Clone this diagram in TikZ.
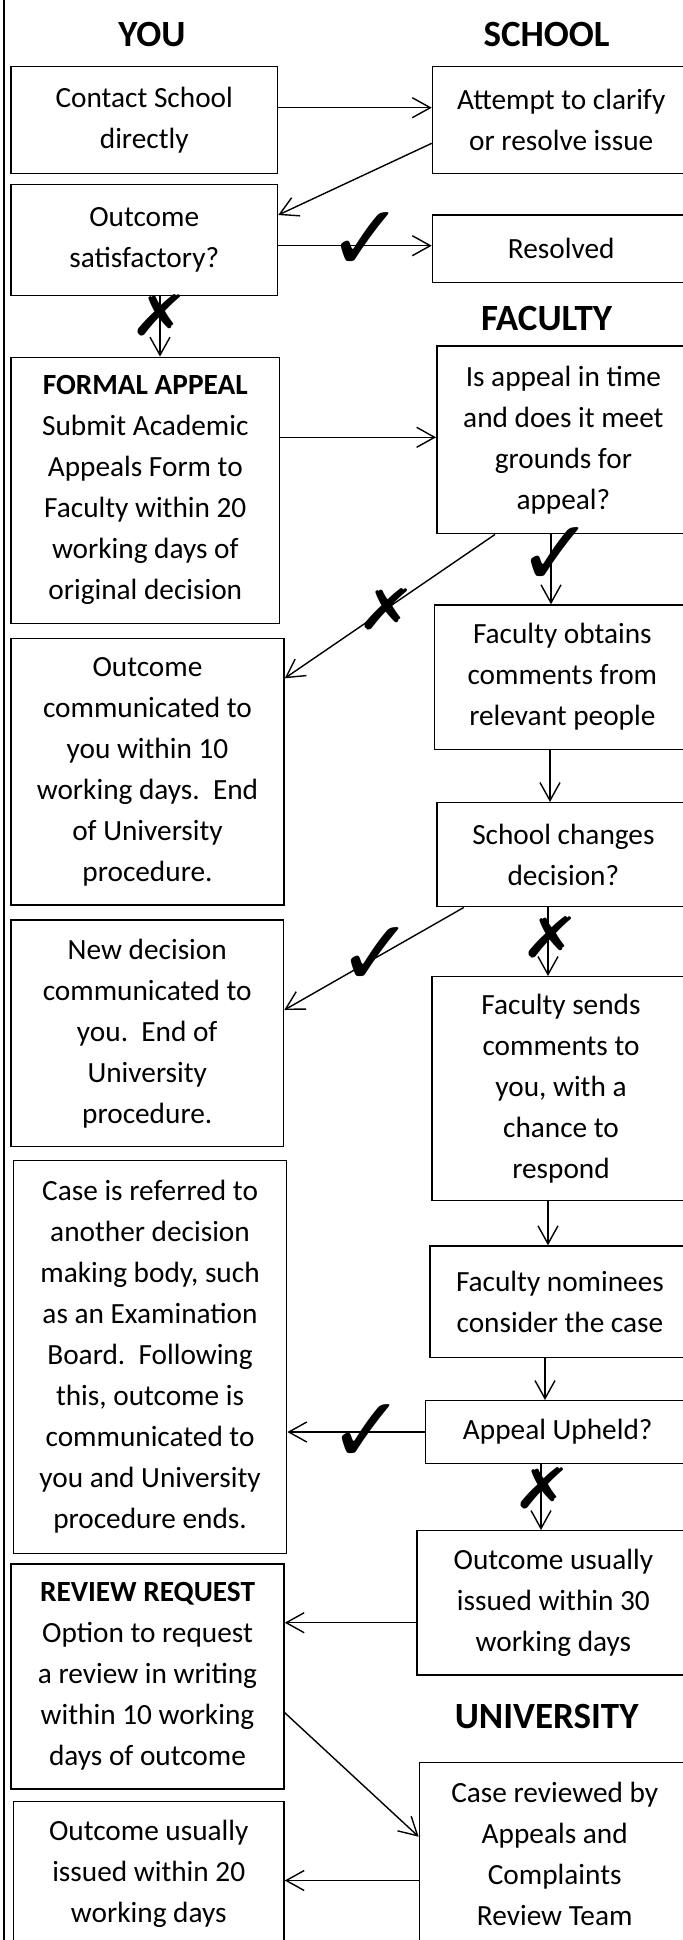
\documentclass[tikz,border=0pt]{standalone}
\usepackage{fontspec}
\setmainfont{Carlito}
\newfontfamily\symfont{DejaVu Sans}
\newfontfamily\symfontb{DejaVu Sans Bold}
\usetikzlibrary{arrows.meta,calc}
\begin{document}
\begin{tikzpicture}[x=0.5pt,y=-0.5pt,
  box/.style={draw, line width=0.75pt, align=center, inner sep=0pt,
    font=\fontsize{14.65}{20.5}\selectfont},
  head/.style={font=\fontsize{18.5}{22}\selectfont\bfseries},
  arr/.style={line width=0.7pt, -{Straight Barb[length=9pt,width=10pt]}},
  chk/.style={font=\symfontb\fontsize{46}{46}\selectfont, inner sep=0pt},
  crs/.style={font=\symfontb\fontsize{28}{28}\selectfont, inner sep=0pt}]
\useasboundingbox (0,0) rectangle (683,1940);
\clip (0,0) rectangle (683,1940);
\fill[white] (0,0) rectangle (683,1940);
\draw[line width=1pt] (3.5,-5) coordinate (bt) -- (3.5,1945) coordinate (bb);

% headings
\node[head] (hyou) at (152,34.2) {YOU};
\node[head] (hschool) at (546.6,34.2) {SCHOOL};
\node[head] (hfac) at (546.6,318.5) {FACULTY};
\node[head] (huni) at (546.6,1716.7) {UNIVERSITY};

% left column
\node[box, minimum width=133.25pt, minimum height=53.5pt] (contact) at (144.25,120.2) {Contact School\\directly};
\node[box, minimum width=133.25pt, minimum height=55.7pt] (outsat) at (144.25,240) {Outcome\\satisfactory?};
\node[box, minimum width=134.3pt, minimum height=133pt] (formal) at (145.3,490.3) {\textbf{FORMAL APPEAL}\\Submit Academic\\Appeals Form to\\Faculty within 20\\working days of\\original decision};
\node[box, minimum width=136.5pt, minimum height=133.35pt] (outcomm) at (147.5,771.65) {Outcome\\communicated to\\you within 10\\working days.\ \ End\\of University\\procedure.};
\node[box, minimum width=136.25pt, minimum height=113.35pt] (newdec) at (147.25,1033.35) {New decision\\communicated to\\you.\ \ End of\\University\\procedure.};
\node[box, minimum width=136.55pt, minimum height=196.5pt] (referred) at (150.05,1356.8) {Case is referred to\\another decision\\making body, such\\as an Examination\\Board.\ \ Following\\this, outcome is\\communicated to\\you and University\\procedure ends.};
\node[box, minimum width=136.5pt, minimum height=112.5pt] (review) at (147.5,1676.5) {\textbf{REVIEW REQUEST}\\Option to request\\a review in writing\\within 10 working\\days of outcome};
\node[box, minimum width=135.25pt, minimum height=71.65pt] (out20) at (148.75,1873.35) {Outcome usually\\issued within 20\\working days};

% right column
\node[box, minimum width=128.75pt, minimum height=53.5pt] (attempt) at (561.25,120.2) {Attempt to clarify\\or resolve issue};
\node[box, minimum width=128.75pt, minimum height=33.85pt] (resolved) at (561.25,248.85) {Resolved};
\node[box, minimum width=126.6pt, minimum height=93.85pt] (isappeal) at (563.4,439.85) {Is appeal in time\\and does it meet\\grounds for\\appeal?};
\node[box, minimum width=127.65pt, minimum height=72.15pt] (facobt) at (562.35,677.15) {Faculty obtains\\comments from\\relevant people};
\node[box, minimum width=126.6pt, minimum height=52pt] (schchg) at (563.4,854.7) {School changes\\decision?};
\node[box, minimum width=129pt, minimum height=112pt] (facsends) at (561,1088.7) {Faculty sends\\comments to\\you, with a\\chance to\\respond};
\node[box, minimum width=130.05pt, minimum height=55.65pt] (nominees) at (559.95,1301.65) {Faculty nominees\\consider the case};
\node[box, minimum width=132.25pt, minimum height=31.3pt] (upheld) at (557.75,1432) {Appeal Upheld?};
\node[box, minimum width=136.6pt, minimum height=72.15pt] (out30) at (553.4,1602.85) {Outcome usually\\issued within 30\\working days};
\node[box, minimum width=135.3pt, minimum height=91.15pt] (casereview) at (554.7,1853.85) {Case reviewed by\\Appeals and\\Complaints\\Review Team};

% connectors
\draw[arr] ([yshift=6.25pt]contact.east) -- ([yshift=6.25pt]contact.east -| attempt.west);
\draw[arr] ([yshift=-11.55pt]attempt.west) -- ([yshift=12.5pt]outsat.east);
\draw[arr] ([yshift=-2.85pt]outsat.east) -- ([yshift=-2.85pt]outsat.east -| resolved.west);
\draw[arr] ([xshift=7.875pt]outsat.south) -- ([xshift=7.875pt]outsat.south |- formal.north);
\draw[arr] ([yshift=26.5pt]formal.east) -- ([yshift=26.5pt]formal.east -| isappeal.west);
\draw[arr] ([xshift=-34.2pt]isappeal.south) -- ([yshift=46.675pt]outcomm.east);
\draw[arr] ([xshift=-6.2pt]isappeal.south) -- ([xshift=-6.2pt]isappeal.south |- facobt.north);
\draw[arr] ([xshift=-6.175pt]facobt.south) -- ([xshift=-6.175pt]facobt.south |- schchg.north);
\draw[arr] ([xshift=-49.8pt]schchg.south) -- ([yshift=11.675pt]newdec.east);
\draw[arr] ([xshift=-7.7pt]schchg.south) -- ([xshift=-7.7pt]schchg.south |- facsends.north);
\draw[arr] ([xshift=-6.5pt]facsends.south) -- ([xshift=-6.5pt]facsends.south |- nominees.north);
\draw[arr] ([xshift=-7.475pt]nominees.south) -- ([xshift=-7.475pt]nominees.south |- upheld.north);
\draw[arr] (upheld.west) -- (upheld.west -| referred.east);
\draw[arr] ([xshift=-8.375pt]upheld.south) -- ([xshift=-8.375pt]upheld.south |- out30.north);
\draw[arr] ([yshift=-9.925pt]out30.west) -- ([yshift=-9.925pt]out30.west -| review.east);
\draw[arr] ([yshift=-18.1pt]review.east) -- ([yshift=8.575pt]casereview.west);
\draw[arr] ([yshift=-13.325pt]casereview.west) -- ([yshift=-13.325pt]casereview.west -| out20.east);

% yes / no marks
\node[chk] (c1) at (366,241.5) {✓};
\node[chk] (c2) at (556,557) {✓};
\node[chk] (c3) at (376,957) {✓};
\node[chk] (c4) at (367,1434) {✓};
\node[crs] (x1) at (160,315) {\scalebox{1.3}[1]{✗}};
\node[crs] (x2) at (386.5,609) {\scalebox{1.3}[1]{✗}};
\node[crs] (x3) at (551,937) {\scalebox{1.3}[1]{✗}};
\node[crs] (x4) at (543,1488) {\scalebox{1.3}[1]{✗}};
\end{tikzpicture}
\end{document}
